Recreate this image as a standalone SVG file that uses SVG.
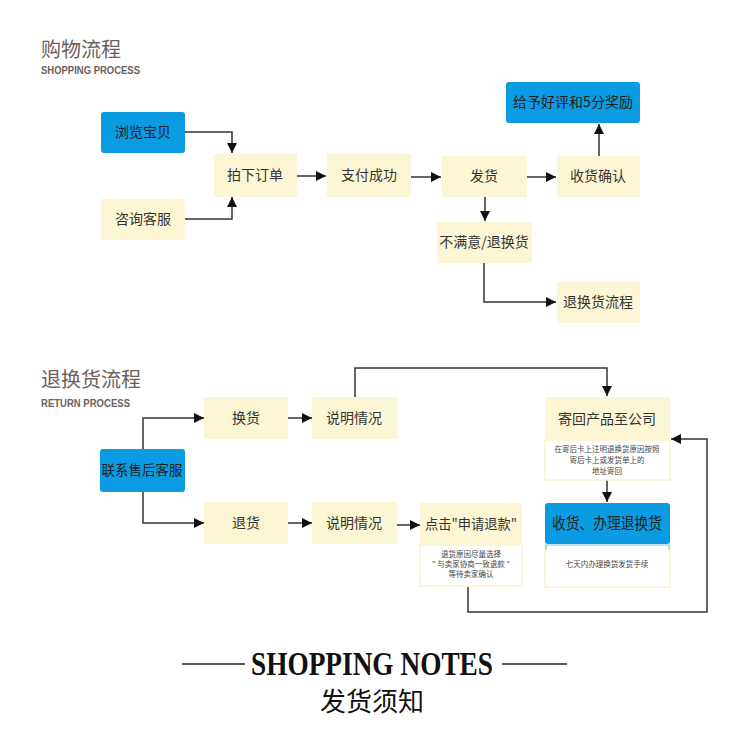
<svg xmlns="http://www.w3.org/2000/svg" width="750" height="750" viewBox="0 0 750 750">
<defs>
<marker id="ah" viewBox="0 0 10 10" refX="10" refY="5" markerWidth="10" markerHeight="10" markerUnits="userSpaceOnUse" orient="auto">
<path d="M0,0 L10,5 L0,10 z" fill="#111"/>
</marker>
<style>
.cream{fill:#fcf6d4}
.blue{fill:#0a9be2}
.note{fill:#fff;stroke:#fbf1cf;stroke-width:1.5}
.t{font-family:"Noto Sans CJK SC","Liberation Sans",sans-serif;font-size:14px;fill:#333;text-anchor:middle}
.tb{font-family:"Noto Sans CJK SC","Liberation Sans",sans-serif;font-size:14px;fill:#222;text-anchor:middle}
.s{font-family:"Noto Sans CJK SC","Liberation Sans",sans-serif;font-size:7.5px;fill:#444;text-anchor:middle}
.h{font-family:"Noto Sans CJK SC","Liberation Sans",sans-serif;font-size:20px;fill:#6d605b}
.hs{font-family:"Liberation Sans",sans-serif;font-weight:bold;font-size:11px;fill:#6d605b}
.c{fill:none;stroke:#333;stroke-width:1.5}
</style>
</defs>
<rect width="750" height="750" fill="#fff"/>

<g id="title1">
<text class="h" x="41" y="57">购物流程</text>
<text class="hs" x="41" y="74" textLength="99" lengthAdjust="spacingAndGlyphs">SHOPPING PROCESS</text>
</g>
<g id="title2">
<text class="h" x="41" y="387">退换货流程</text>
<text class="hs" x="41" y="407" textLength="89" lengthAdjust="spacingAndGlyphs">RETURN PROCESS</text>
</g>

<g id="connectors">
<path class="c" d="M185,132 H232 V153" marker-end="url(#ah)"/>
<path class="c" d="M185,219 H232 V197" marker-end="url(#ah)"/>
<path class="c" d="M297,176 H326" marker-end="url(#ah)"/>
<path class="c" d="M411,177 H441" marker-end="url(#ah)"/>
<path class="c" d="M527,177 H556" marker-end="url(#ah)"/>
<path class="c" d="M599,156 V124" marker-end="url(#ah)"/>
<path class="c" d="M485,197 V221" marker-end="url(#ah)"/>
<path class="c" d="M484,263 V302 H556" marker-end="url(#ah)"/>
<path class="c" d="M143,449 V418 H204" marker-end="url(#ah)"/>
<path class="c" d="M143,492 V523 H204" marker-end="url(#ah)"/>
<path class="c" d="M288,418 H312" marker-end="url(#ah)"/>
<path class="c" d="M288,523 H312" marker-end="url(#ah)"/>
<path class="c" d="M355,397 V368 H607 V396" marker-end="url(#ah)"/>
<path class="c" d="M397,525 H420" marker-end="url(#ah)"/>
<path class="c" d="M607,480 V502" marker-end="url(#ah)"/>
<path class="c" d="M468,587 V612 H707 V439 H671" marker-end="url(#ah)"/>
</g>

<g id="n-browse"><rect class="blue" x="101" y="112" width="84" height="41" rx="3"/><text class="tb" x="143" y="137">浏览宝贝</text></g>
<g id="n-consult"><rect class="cream" x="101" y="199" width="84" height="41"/><text class="t" x="143" y="224">咨询客服</text></g>
<g id="n-order"><rect class="cream" x="214" y="154" width="83" height="43"/><text class="t" x="255" y="180">拍下订单</text></g>
<g id="n-pay"><rect class="cream" x="327" y="154" width="84" height="43"/><text class="t" x="369" y="180">支付成功</text></g>
<g id="n-ship"><rect class="cream" x="442" y="156" width="85" height="41"/><text class="t" x="484" y="181">发货</text></g>
<g id="n-confirm"><rect class="cream" x="557" y="156" width="83" height="41"/><text class="t" x="598" y="181">收货确认</text></g>
<g id="n-review"><rect class="blue" x="506" y="82" width="134" height="41" rx="3"/><text class="tb" x="573" y="107">给予好评和5分奖励</text></g>
<g id="n-unhappy"><rect class="cream" x="437" y="222" width="95" height="41"/><text class="t" x="484" y="247">不满意/退换货</text></g>
<g id="n-returnflow"><rect class="cream" x="557" y="282" width="83" height="41"/><text class="t" x="598" y="307">退换货流程</text></g>

<g id="n-contact"><rect class="blue" x="100" y="449" width="85" height="43" rx="3"/><text class="tb" x="142" y="475" style="font-size:13.5px">联系售后客服</text></g>
<g id="n-exchange"><rect class="cream" x="204" y="397" width="84" height="42"/><text class="t" x="246" y="423">换货</text></g>
<g id="n-explain1"><rect class="cream" x="312" y="397" width="85" height="42"/><text class="t" x="354" y="423">说明情况</text></g>
<g id="n-refund"><rect class="cream" x="204" y="502" width="84" height="42"/><text class="t" x="246" y="528">退货</text></g>
<g id="n-explain2"><rect class="cream" x="312" y="502" width="85" height="42"/><text class="t" x="354" y="528">说明情况</text></g>

<g id="n-apply">
<rect class="note" x="420" y="545" width="102" height="41"/>
<rect class="cream" x="420" y="503" width="102" height="42"/>
<text class="t" x="471" y="529" textLength="92" lengthAdjust="spacingAndGlyphs">点击"申请退款"</text>
<text class="s" x="471" y="557">退货原因尽量选择</text>
<text class="s" x="471" y="567">" 与卖家协商一致退款 "</text>
<text class="s" x="471" y="577">等待卖家确认</text>
</g>
<g id="n-sendback">
<rect class="note" x="545" y="440" width="125" height="40"/>
<rect class="cream" x="545" y="397" width="125" height="43"/>
<text class="t" x="607" y="424">寄回产品至公司</text>
<text class="s" x="607" y="452">在寄后卡上注明退换货原因按照</text>
<text class="s" x="607" y="463">寄后卡上或发货单上的</text>
<text class="s" x="607" y="474">地址寄回</text>
</g>
<g id="n-process">
<rect x="545" y="543" width="125" height="44" fill="#fff" stroke="#fbf1cf" stroke-width="1.5"/>
<path d="M546,550 V545 H669 V550" fill="none" stroke="#7cc4ee" stroke-width="1.2"/>
<rect class="blue" x="545" y="503" width="125" height="41" rx="3"/>
<text class="tb" x="607" y="529" style="font-size:15.5px" textLength="110" lengthAdjust="spacingAndGlyphs">收货、办理退换货</text>
<text class="s" x="607" y="567">七天内办理换货发货手续</text>
</g>

<g id="footer">
<line x1="182" y1="664" x2="245" y2="664" stroke="#222" stroke-width="1.5"/>
<line x1="502" y1="664" x2="567" y2="664" stroke="#222" stroke-width="1.5"/>
<text x="372" y="675" text-anchor="middle" font-family="Liberation Serif, serif" font-weight="bold" font-size="34" fill="#111" textLength="242" lengthAdjust="spacingAndGlyphs">SHOPPING NOTES</text>
<text x="372" y="711" text-anchor="middle" font-family="Noto Sans CJK SC, sans-serif" font-size="26" fill="#111">发货须知</text>
</g>
</svg>
